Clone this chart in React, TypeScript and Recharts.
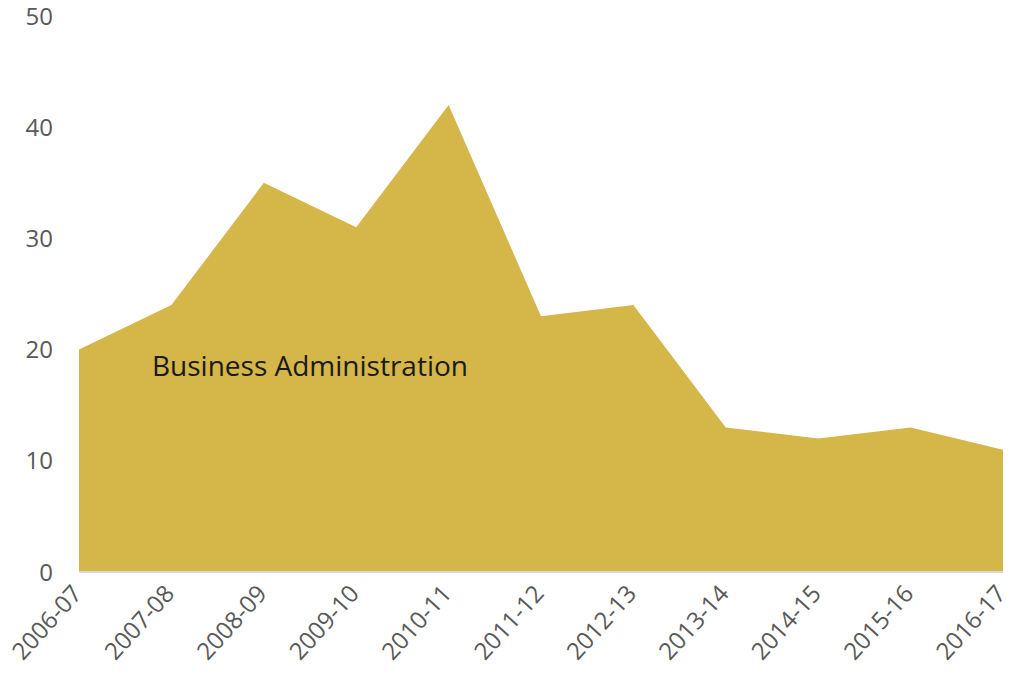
import React from 'react';
import { AreaChart, Area, XAxis, YAxis } from 'recharts';

const years = ['2006-07', '2007-08', '2008-09', '2009-10', '2010-11', '2011-12', '2012-13', '2013-14', '2014-15', '2015-16', '2016-17'];
const business = [20, 24, 35, 31, 42, 23, 24, 13, 12, 13, 11];
const yTicks = [0, 10, 20, 30, 40, 50];

const data = years.map((year, i) => ({ year, value: business[i] }));

const font = '"Open Sans", sans-serif';

const XTick = (props: any) => {
  const { x, y, payload } = props;
  return (
    <g transform={`translate(${x},${y})`}>
      <text
        x={0}
        y={0}
        dx={-8}
        dy={13}
        textAnchor="end"
        transform="rotate(-48)"
        fill="#595959"
        fontSize={24}
        fontFamily={font}
      >
        {payload.value}
      </text>
    </g>
  );
};

const App: React.FC = () => {
  return (
    <div style={{ position: 'absolute', left: 0, top: 0, width: 1013, height: 677, background: '#fff' }}>
      <AreaChart width={1013} height={677} data={data} margin={{ top: 16, right: 10, bottom: 5, left: 0 }}>
        <XAxis
          dataKey="year"
          tick={<XTick />}
          tickLine={false}
          axisLine={{ stroke: '#d9d9d9', strokeWidth: 2 }}
          interval={0}
          height={100}
          padding={{ left: 0, right: 0 }}
        />
        <YAxis
          domain={[0, 50]}
          ticks={yTicks}
          width={79}
          tickLine={false}
          axisLine={false}
          tickSize={0}
          tickMargin={26}
          tick={{ fill: '#595959', fontSize: 24, fontFamily: font }}
        />
        <Area
          type="linear"
          dataKey="value"
          stroke="none"
          fill="#d4b649"
          fillOpacity={1}
          isAnimationActive={false}
        />
      </AreaChart>
      <div
        style={{
          position: 'absolute',
          left: 152,
          top: 346,
          fontFamily: font,
          fontSize: 28,
          color: '#1a1a1a',
          whiteSpace: 'nowrap',
        }}
      >
        Business Administration
      </div>
    </div>
  );
};

export default App;
